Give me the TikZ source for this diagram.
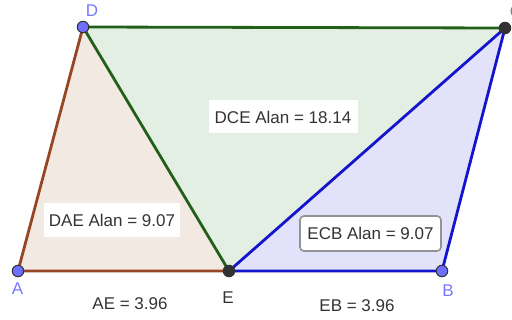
\documentclass[tikz,border=0pt]{standalone}
\usepackage{fontspec}
\setmainfont{Liberation Sans}
\definecolor{brownE}{RGB}{150,70,35}
\definecolor{greenE}{RGB}{34,96,26}
\definecolor{blueE}{RGB}{20,20,205}
\definecolor{brownF}{RGB}{243,233,227}
\definecolor{greenF}{RGB}{228,239,228}
\definecolor{blueF}{RGB}{226,226,250}
\definecolor{ptblue}{RGB}{110,110,255}
\definecolor{ptdark}{RGB}{50,50,50}
\definecolor{lblblue}{RGB}{120,120,255}
\definecolor{txt}{RGB}{51,51,51}
\begin{document}
\begin{tikzpicture}[x=1pt,y=-1pt,
  edge/.style={line width=2.8pt,line join=round},
  bluept/.style={circle,fill=ptblue,draw=ptdark,line width=1pt,inner sep=0pt,minimum size=11.5pt},
  darkpt/.style={circle,fill=ptdark,draw=ptdark,line width=1pt,inner sep=0pt,minimum size=11.5pt},
  ptlabel/.style={font=\fontsize{17}{17}\selectfont,inner sep=0pt},
  valtext/.style={font=\fontsize{17}{17}\selectfont,text=txt,inner sep=0pt},
  areabox/.style={font=\fontsize{17}{17}\selectfont,text=txt,fill=white,inner sep=0pt,text depth=0pt}]
\useasboundingbox (0,0) rectangle (512,320);
\coordinate (A) at (18,271);
\coordinate (D) at (83,27);
\coordinate (C) at (505,28);
\coordinate (E) at (229,271);
\coordinate (B) at (442,271);
% fills
\fill[brownF] (D) -- (A) -- (E) -- cycle;
\fill[greenF] (D) -- (C) -- (E) -- cycle;
\fill[blueF] (E) -- (C) -- (B) -- cycle;
% edges
\draw[edge,brownE] (D) -- (A) -- (E);
\draw[edge,greenE] (E) -- (D) -- (C);
\draw[edge,blueE] (C) -- (E) -- (B) -- cycle;
% area boxes
\node[areabox,minimum width=136pt,minimum height=34pt] (dae) at (112,220) {DAE Alan = 9.07};
\node[areabox,minimum width=149pt,minimum height=33pt] (dce) at (283,117) {DCE Alan = 18.14};
\node[areabox,draw=gray!85,line width=1.6pt,rounded corners=4pt,minimum width=141pt,minimum height=35pt] (ecb) at (370.5,233.5) {ECB Alan = 9.07};
% lengths
\node[valtext] (ae) at (130,304) {AE = 3.96};
\node[valtext] (eb) at (357,306) {EB = 3.96};
% points
\node[bluept] (pA) at (A) {};
\node[bluept] (pD) at (D) {};
\node[bluept] (pB) at (B) {};
\node[darkpt] (pE) at (E) {};
\node[darkpt] (pC) at (C) {};
% labels
\node[ptlabel,text=lblblue] (lA) at (17.5,289) {A};
\node[ptlabel,text=lblblue] (lD) at (92,11) {D};
\node[ptlabel,text=lblblue] (lB) at (448,291) {B};
\node[ptlabel,text=txt] (lE) at (228,298) {E};
\node[ptlabel,text=gray] (lC) at (516,12) {C};
\end{tikzpicture}
\end{document}
